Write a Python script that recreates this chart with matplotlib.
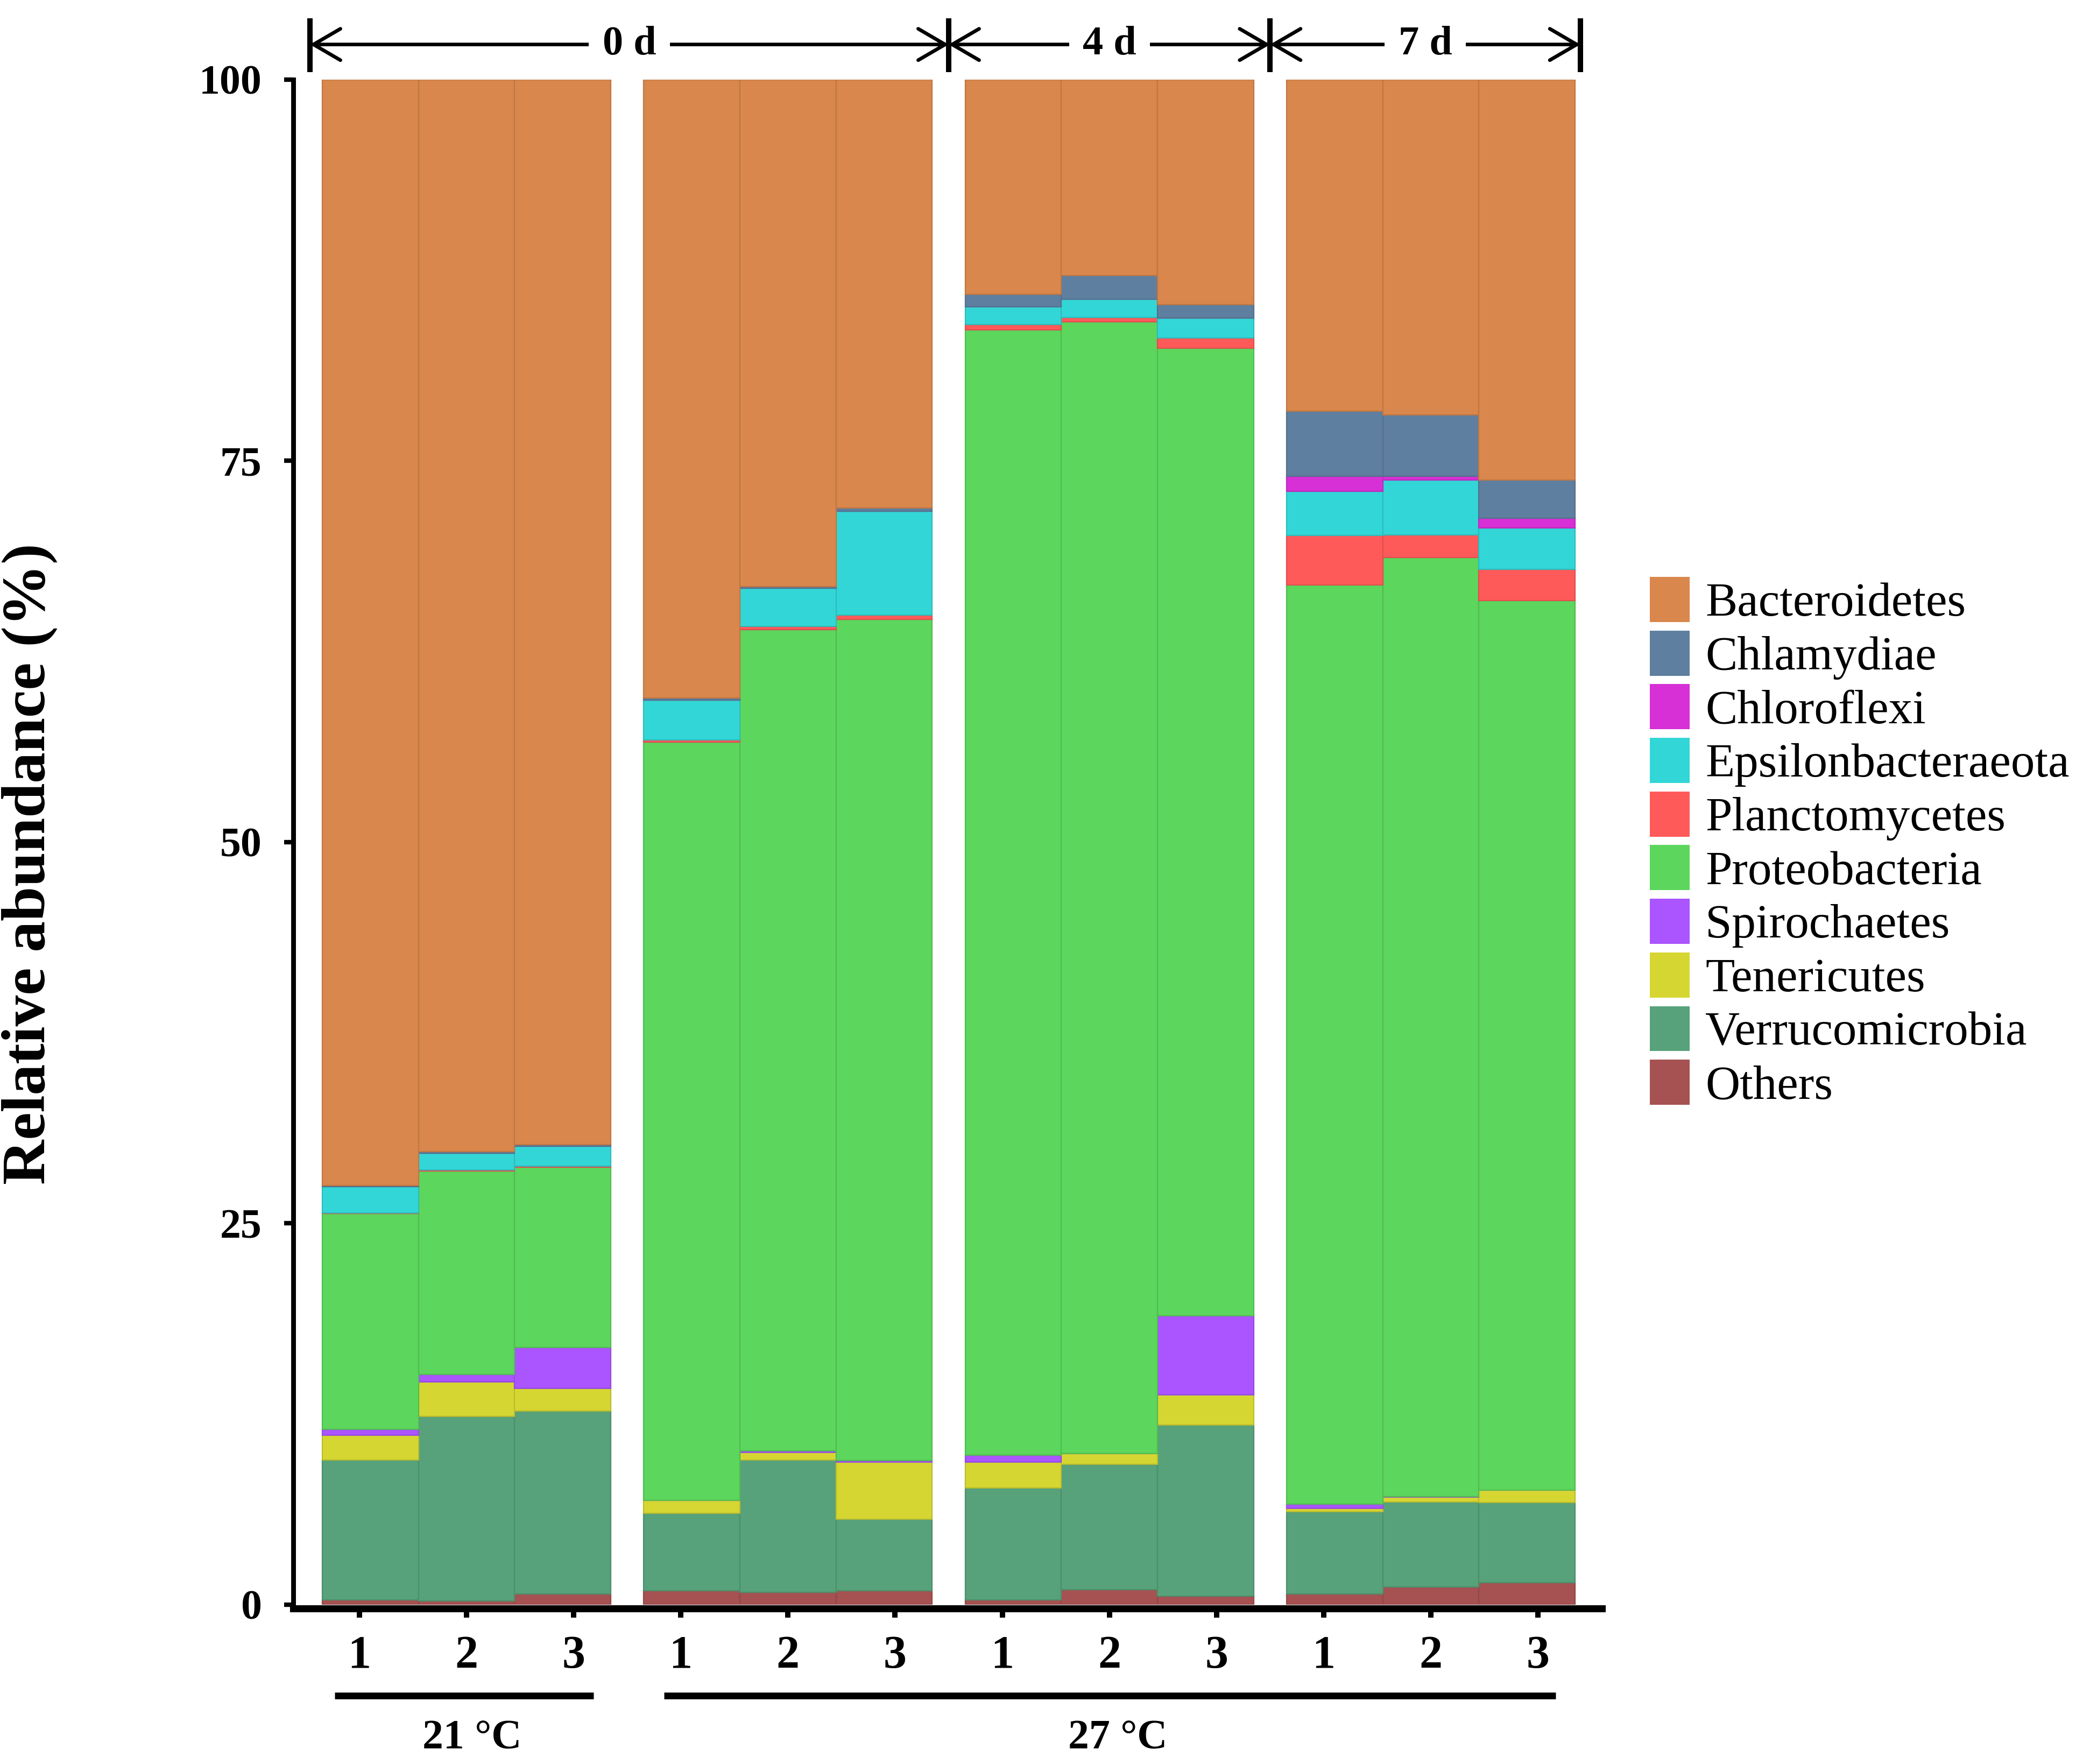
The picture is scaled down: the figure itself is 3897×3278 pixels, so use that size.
import numpy as np
import matplotlib.pyplot as plt
from matplotlib.patches import Patch
from matplotlib import colors as mcolors

plt.rcParams['font.family'] = ['Liberation Serif', 'DejaVu Serif']

# stacking order, bottom to top
phyla = ['Others', 'Verrucomicrobia', 'Tenericutes', 'Spirochaetes',
         'Proteobacteria', 'Planctomycetes', 'Epsilonbacteraeota',
         'Chloroflexi', 'Chlamydiae', 'Bacteroidetes']

# relative abundance (%) of the 12 samples (21C 0d x3, 27C 0d x3, 4d x3, 7d x3)
others          = [0.3, 0.25, 0.7, 0.9, 0.8, 0.9, 0.3, 1.0, 0.55, 0.7, 1.15, 1.45]
verrucomicrobia = [9.2, 12.1, 12.0, 5.1, 8.7, 4.7, 7.35, 8.2, 11.25, 5.4, 5.6, 5.25]
tenericutes     = [1.6, 2.25, 1.5, 0.85, 0.5, 3.75, 1.7, 0.7, 1.95, 0.2, 0.3, 0.8]
spirochaetes    = [0.4, 0.5, 2.65, 0.0, 0.1, 0.1, 0.45, 0.0, 5.2, 0.3, 0.05, 0.0]
proteobacteria  = [14.15, 13.35, 11.85, 49.7, 53.85, 55.15, 73.8, 74.2, 63.45, 60.25, 61.55, 58.35]
planctomycetes  = [0.05, 0.05, 0.05, 0.15, 0.2, 0.3, 0.35, 0.3, 0.65, 3.25, 1.5, 2.05]
epsilon         = [1.7, 1.1, 1.3, 2.6, 2.5, 6.8, 1.15, 1.2, 1.3, 2.9, 3.6, 2.7]
chloroflexi     = [0.0, 0.0, 0.0, 0.0, 0.0, 0.0, 0.0, 0.0, 0.0, 1.0, 0.25, 0.65]
chlamydiae      = [0.1, 0.1, 0.1, 0.15, 0.1, 0.2, 0.8, 1.55, 0.9, 4.25, 4.0, 2.5]
bacteroidetes   = [72.5, 70.3, 69.85, 40.55, 33.25, 28.1, 14.1, 12.85, 14.75, 21.75, 22.0, 26.25]

values = [others, verrucomicrobia, tenericutes, spirochaetes, proteobacteria,
          planctomycetes, epsilon, chloroflexi, chlamydiae, bacteroidetes]

colours = ['#A65252', '#57A27A', '#D6D633', '#AA55FF', '#5CD65C',
           '#FF5A5A', '#33D6D6', '#D630D6', '#5F7FA0', '#D9874C']

sample_labels = ['1', '2', '3'] * 4
day_labels = ['0 d', '4 d', '7 d']
temp_labels = ['21 \u00b0C', '27 \u00b0C']

# bar positions: 4 groups of 3 touching bars
gap = 0.345
x = np.array([g * (3 + gap) + j for g in range(4) for j in range(3)], dtype=float)
# the tick marks are spread a little wider than the bars in the original
tick_x = np.array([x[3 * g + 1] + (j - 1) * 1.115 for g in range(4) for j in range(3)])

fig = plt.figure(figsize=(3898 / 200, 3278 / 200), dpi=200)
ax = fig.add_axes([0.1398, 0.0903, 0.6239, 0.8646])

bottom = np.zeros(len(x))
for vals, col in zip(values, colours):
    edge = np.array(mcolors.to_rgb(col)) * 0.88
    ax.bar(x, vals, bottom=bottom, width=1.0, color=col,
           edgecolor=edge, linewidth=0.8, zorder=2)
    bottom += np.array(vals)

ax.set_xlim(x[0] - 0.803, x[-1] + 0.78)
ax.set_ylim(0, 100)
ax.set_yticks([0, 25, 50, 75, 100])
ax.set_xticks(tick_x)
ax.set_xticklabels(sample_labels)

for s in ['top', 'right']:
    ax.spines[s].set_visible(False)
ax.spines['left'].set_linewidth(3.2)
ax.spines['bottom'].set_linewidth(4.7)
ax.spines['bottom'].set_position(('outward', 2.35))

ax.tick_params(axis='y', length=6, width=3, pad=15, labelsize=28)
ax.tick_params(axis='x', length=6, width=3.6, pad=12, labelsize=31)
for lbl in ax.get_xticklabels() + ax.get_yticklabels():
    lbl.set_fontweight('bold')

fig.text(0.0141, 0.5104, 'Relative abundance (%)', rotation=90,
         ha='center', va='center', fontsize=41.5, fontweight='bold')

# sampling day headers with arrows
b1 = (x[5] + x[6]) / 2
b2 = (x[8] + x[9]) / 2
spans = [(x[0] - 0.629, b1), (b1, b2), (b2, x[-1] + 0.555)]
ya = 102.3
for (x0, x1), lab in zip(spans, day_labels):
    ax.annotate('', xy=(x1, ya), xytext=(x0, ya), xycoords='data',
                arrowprops=dict(arrowstyle='<->,head_length=0.6,head_width=0.35',
                                lw=2.4, color='black', shrinkA=0, shrinkB=0,
                                mutation_scale=30),
                annotation_clip=False, zorder=3)
    ax.text((x0 + x1) / 2, ya, lab, ha='center', va='center', fontsize=27.5,
            fontweight='bold', clip_on=False, zorder=4,
            bbox=dict(facecolor='white', edgecolor='none', pad=9))
for xm in [spans[0][0], b1, b2, spans[2][1]]:
    ax.plot([xm, xm], [100.5, 104.0], color='black', lw=3.6,
            clip_on=False, solid_capstyle='butt')

# temperature groups under the axis
temp_spans = [(x[0] - 0.37, x[2] + 0.32), (x[3] - 0.29, x[-1] + 0.3)]
for (x0, x1), lab in zip(temp_spans, temp_labels):
    ax.plot([x0, x1], [-5.96, -5.96], color='black', lw=4.5,
            clip_on=False, solid_capstyle='butt')
    ax.text((x0 + x1) / 2 + 0.08, -8.8, lab, ha='center', va='center',
            fontsize=28, fontweight='bold', clip_on=False)

handles = [Patch(facecolor=c, edgecolor='none') for c in colours[::-1]]
fig.legend(handles, phyla[::-1], loc='upper left',
           bbox_to_anchor=(3066 / 3898, 1 - 1072 / 3278),
           frameon=False, fontsize=32, handlelength=0.83, handleheight=1.076,
           handletextpad=0.33, labelspacing=0.095, borderpad=0, borderaxespad=0)

fig.savefig('out.png', dpi=200, facecolor='white')
